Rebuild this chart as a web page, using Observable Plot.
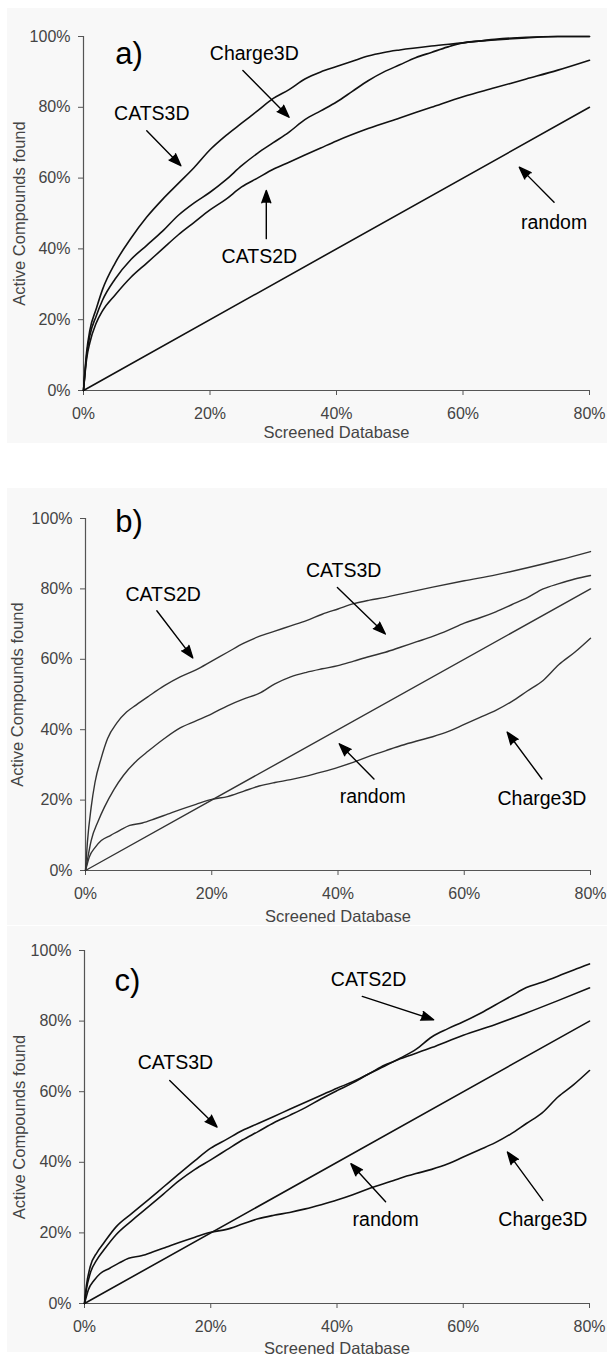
<!DOCTYPE html>
<html>
<head>
<meta charset="utf-8">
<script src="https://cdn.jsdelivr.net/npm/d3@7"></script>
<script src="https://cdn.jsdelivr.net/npm/@observablehq/plot@0.6"></script>
<style>
  html, body { margin: 0; padding: 0; background: #ffffff; }
  body { width: 607px; height: 1355px; position: relative; overflow: hidden;
         font-family: "Liberation Sans", Arial, sans-serif; }
  .panel { position: absolute; left: 7px; width: 600px; background: #f8f8f8; }
  .panel svg { display: block; }
</style>
</head>
<body>
<div id="pa" class="panel" style="top:8px;height:435px"></div>
<div id="pb" class="panel" style="top:488px;height:437px"></div>
<div id="pc" class="panel" style="top:926px;height:426px"></div>
<script>
// ---------- shared axis values ----------
const xTicks = [0, 20, 40, 60, 80];
const yTicks = [0, 20, 40, 60, 80, 100];
const xTitle = "Screened Database";
const yTitle = "Active Compounds found";

// ---------- panel a ----------
const a_CATS3D = [[0,0],[0.5,11],[1,17],[2,23],[3,28.5],[5,36],[7.5,43],[10,49],[12.5,54],[15,58.5],[17.5,63],[20,68],[22.5,72],[25,75.5],[27.5,79],[30,82.5],[32.5,85],[35,88],[37.5,90],[40,91.5],[42.5,93],[45,94.5],[47.5,95.5],[50,96.2],[55,97.3],[60,98.2],[65,99.2],[70,99.8],[75,100],[80,100]];
const a_Charge3D = [[0,0],[0.5,10],[1,15.5],[2,21],[3,25.5],[5,31.5],[7.5,37],[10,41],[12.5,45],[15,49.5],[17.5,53],[20,56],[22.5,59.5],[25,63.5],[27.5,67],[30,70],[32.5,73],[35,76.5],[37.5,79],[40,81.5],[42.5,84.5],[45,87.5],[47.5,90],[50,92],[52.5,94],[55,95.5],[57.5,97],[60,98.2],[65,99],[70,99.6],[75,100],[80,100]];
const a_CATS2D = [[0,0],[0.5,9],[1,13.5],[2,19],[3,22.5],[5,27],[7.5,32],[10,36],[12.5,40],[15,44],[17.5,47.5],[20,51],[22.5,54],[25,57.5],[27.5,60],[30,62.5],[32.5,64.5],[35,66.5],[37.5,68.5],[40,70.5],[45,74],[50,77],[55,80],[60,83],[65,85.5],[70,88],[75,90.5],[80,93.3]];
const a_random = [[0,0],[80,80]];
const a_labels = [
  {x: 27, y: 95, t: "Charge3D"},
  {x: 10.8, y: 78.2, t: "CATS3D"},
  {x: 27.8, y: 37.7, t: "CATS2D"},
  {x: 74.4, y: 47.5, t: "random"}
];
const a_arrows = [
  {x1: 25.2, y1: 90.4, x2: 32.5, y2: 77.2},
  {x1: 10, y1: 73.4, x2: 15.4, y2: 63.5},
  {x1: 28.9, y1: 42.9, x2: 28.9, y2: 56.5},
  {x1: 74.4, y1: 53.2, x2: 68.9, y2: 63.1}
];

// ---------- panel b ----------
const b_CATS2D = [[0,0],[0.3,8],[0.9,18],[1.5,25],[2.5,32],[3.5,37.5],[5,42],[6.5,45],[8,47],[10,49.5],[12.5,52.5],[15,55],[17.5,57],[20,59.5],[22.5,62],[25,64.5],[27.5,66.5],[30,68],[32.5,69.5],[35,71],[37.5,72.8],[40,74.3],[42.5,75.8],[45,76.8],[47.5,77.6],[50,78.6],[55,80.5],[60,82.3],[65,84],[70,86],[75,88.2],[80,90.6]];
const b_CATS3D = [[0,0],[0.3,3],[0.9,8.5],[2,14],[3,18],[4.5,23],[6,27],[8,31],[10,34],[12.5,37.5],[15,40.5],[17.5,42.5],[20,44.5],[22.5,46.8],[25,48.7],[27.5,50.3],[30,53],[32.5,55],[35,56.3],[37.5,57.3],[40,58.2],[42.5,59.5],[45,60.8],[47.5,62],[50,63.5],[52.5,65],[55,66.5],[57.5,68.3],[60,70.3],[62.5,71.8],[65,73.5],[67.5,75.5],[70,77.5],[72.5,80],[75,81.5],[77.5,82.8],[80,83.8]];
const b_Charge3D = [[0,0],[0.3,2],[0.6,3.8],[1.5,6.5],[2.5,8.5],[4,10],[5.5,11.5],[7,12.8],[9,13.5],[11,14.7],[13,16],[15,17.3],[17.5,18.8],[20,20.2],[22.5,21],[25,22.5],[27.5,24],[30,25],[32.5,25.8],[35,26.8],[37.5,28],[40,29.3],[42.5,30.8],[45,32.5],[47.5,34],[50,35.5],[52.5,36.8],[55,38],[57.5,39.5],[60,41.5],[62.5,43.5],[65,45.5],[67.5,48],[70,51],[72.5,54],[75,58.5],[77.5,62],[80,66]];
const b_random = [[0,0],[80,80]];
const b_labels = [
  {x: 12.3, y: 78.3, t: "CATS2D"},
  {x: 40.9, y: 85.1, t: "CATS3D"},
  {x: 45.5, y: 21, t: "random"},
  {x: 72.3, y: 20.3, t: "Charge3D"}
];
const b_arrows = [
  {x1: 11.3, y1: 73.8, x2: 17, y2: 60.4},
  {x1: 39.9, y1: 80.4, x2: 47.5, y2: 67.2},
  {x1: 45.7, y1: 26, x2: 40.2, y2: 36},
  {x1: 72.3, y1: 26, x2: 66.8, y2: 39.3}
];

// ---------- panel c ----------
const c_CATS3D = [[0,0],[0.3,5],[0.9,10.4],[2,14.5],[3,17],[5,21.7],[7.5,25.5],[10,29.2],[12.5,33],[15,36.8],[17.5,40.5],[20,44],[22.5,46.5],[25,49],[27.5,51],[30,53],[32.5,55],[35,57],[37.5,59],[40,61],[42.5,62.8],[45,65],[47.5,67.5],[50,69.3],[55,72.5],[60,76],[65,79],[70,82.3],[75,85.8],[80,89.4]];
const c_CATS2D = [[0,0],[0.3,4],[0.9,8.5],[2,12.5],[3,15],[5,19.5],[7.5,23.5],[10,27.2],[12.5,31],[15,34.8],[17.5,38],[20,40.7],[22.5,43.5],[25,46.3],[27.5,48.7],[30,51.2],[32.5,53.3],[35,55.5],[37.5,58],[40,60.3],[42.5,62.5],[45,65],[47.5,67.2],[50,69.5],[52.5,72],[55,75.5],[57.5,77.8],[60,79.8],[62.5,82],[65,84.5],[67.5,87],[70,89.5],[72.5,91],[75,92.7],[77.5,94.5],[80,96.2]];
const c_Charge3D = [[0,0],[0.3,2],[0.6,3.8],[1.5,6.5],[2.5,8.5],[4,10],[5.5,11.5],[7,12.8],[9,13.5],[11,14.7],[13,16],[15,17.3],[17.5,18.8],[20,20.2],[22.5,21],[25,22.5],[27.5,24],[30,25],[32.5,25.8],[35,26.8],[37.5,28],[40,29.3],[42.5,30.8],[45,32.5],[47.5,34],[50,35.5],[52.5,36.8],[55,38],[57.5,39.5],[60,41.5],[62.5,43.5],[65,45.5],[67.5,48],[70,51],[72.5,54],[75,58.5],[77.5,62],[80,66]];
const c_random = [[0,0],[80,80]];
const c_labels = [
  {x: 45, y: 91.7, t: "CATS2D"},
  {x: 14.4, y: 68.1, t: "CATS3D"},
  {x: 47.7, y: 23.6, t: "random"},
  {x: 72.6, y: 23.6, t: "Charge3D"}
];
const c_arrows = [
  {x1: 44, y1: 87, x2: 55.3, y2: 80.4},
  {x1: 13.5, y1: 63.2, x2: 21, y2: 50},
  {x1: 47.7, y1: 28.8, x2: 42.2, y2: 39.6},
  {x1: 72.6, y1: 29.2, x2: 67, y2: 42.9}
];

// ---------- panel tags ----------
const tags = [
  {x: 7.2, y: 95, t: "a)"},
  {x: 6.9, y: 98.9, t: "b)"},
  {x: 6.8, y: 91.4, t: "c)"}
];

const FONT = "'Liberation Sans', Arial, Helvetica, sans-serif";

function panel(o) {
  const lineMarks = o.series.map(s =>
    Plot.line(s, {x: d => d[0], y: d => d[1], stroke: o.lineColor, strokeWidth: o.lineWidth,
                  strokeLinejoin: "round", curve: "monotone-x"}));
  return Plot.plot({
    width: 600, height: o.height,
    marginTop: o.mt, marginBottom: o.mb, marginLeft: o.ml, marginRight: o.mr,
    style: {background: "transparent", fontFamily: FONT, fontSize: "16px", color: "#444", overflow: "visible"},
    x: {domain: [0, 80]},
    y: {domain: [0, 100]},
    marks: [
      Plot.axisX({ticks: xTicks, tickFormat: d => d + "%", tickSize: 5, tickPadding: 12,
                  label: null, stroke: "#555", fill: "#444", fontSize: 16}),
      Plot.axisY({ticks: yTicks, tickFormat: d => d + "%", tickSize: 5, tickPadding: 8,
                  label: null, stroke: "#555", fill: "#444", fontSize: 16}),
      Plot.ruleX([0], {stroke: "#555", strokeWidth: 1.2}),
      Plot.ruleY([0], {stroke: "#555", strokeWidth: 1.2}),
      Plot.text([xTitle], {frameAnchor: "bottom", dy: o.xTitleDy, text: d => d, fontSize: 16.5, fill: "#444",
                           textAnchor: "middle", lineAnchor: "middle"}),
      Plot.text([yTitle], {frameAnchor: "left", dx: o.yTitleDx, rotate: -90, text: d => d, fontSize: 16.5, fill: "#444",
                           textAnchor: "middle", lineAnchor: "middle"}),
      ...lineMarks,
      Plot.arrow(o.arrows, {x1: "x1", y1: "y1", x2: "x2", y2: "y2", stroke: "#000", fill: "#000",
                            strokeWidth: 1.4, headLength: 14, headAngle: 40, insetEnd: 0, insetStart: 0}),
      Plot.text(o.labels, {x: "x", y: "y", text: "t", fontSize: 19.5, fill: "#000"}),
      Plot.text([o.tag], {x: "x", y: "y", text: "t", fontSize: 31, fill: "#000", textAnchor: "middle"})
    ]
  });
}

document.getElementById("pa").appendChild(panel({
  series: [a_CATS3D, a_Charge3D, a_CATS2D, a_random], labels: a_labels, arrows: a_arrows, tag: tags[0],
  height: 435, mt: 28, mb: 53, ml: 76, mr: 18, xTitleDy: 42, yTitleDx: -63.5,
  lineColor: "#111", lineWidth: 1.6
}));
document.getElementById("pb").appendChild(panel({
  series: [b_CATS2D, b_CATS3D, b_Charge3D, b_random], labels: b_labels, arrows: b_arrows, tag: tags[1],
  height: 437, mt: 30, mb: 55, ml: 78, mr: 17, xTitleDy: 46.5, yTitleDx: -67.5,
  lineColor: "#333", lineWidth: 1.4
}));
document.getElementById("pc").appendChild(panel({
  series: [c_CATS3D, c_CATS2D, c_Charge3D, c_random], labels: c_labels, arrows: c_arrows, tag: tags[2],
  height: 426, mt: 24, mb: 49, ml: 77, mr: 18, xTitleDy: 45, yTitleDx: -64.5,
  lineColor: "#111", lineWidth: 1.6
}));
</script>
</body>
</html>
